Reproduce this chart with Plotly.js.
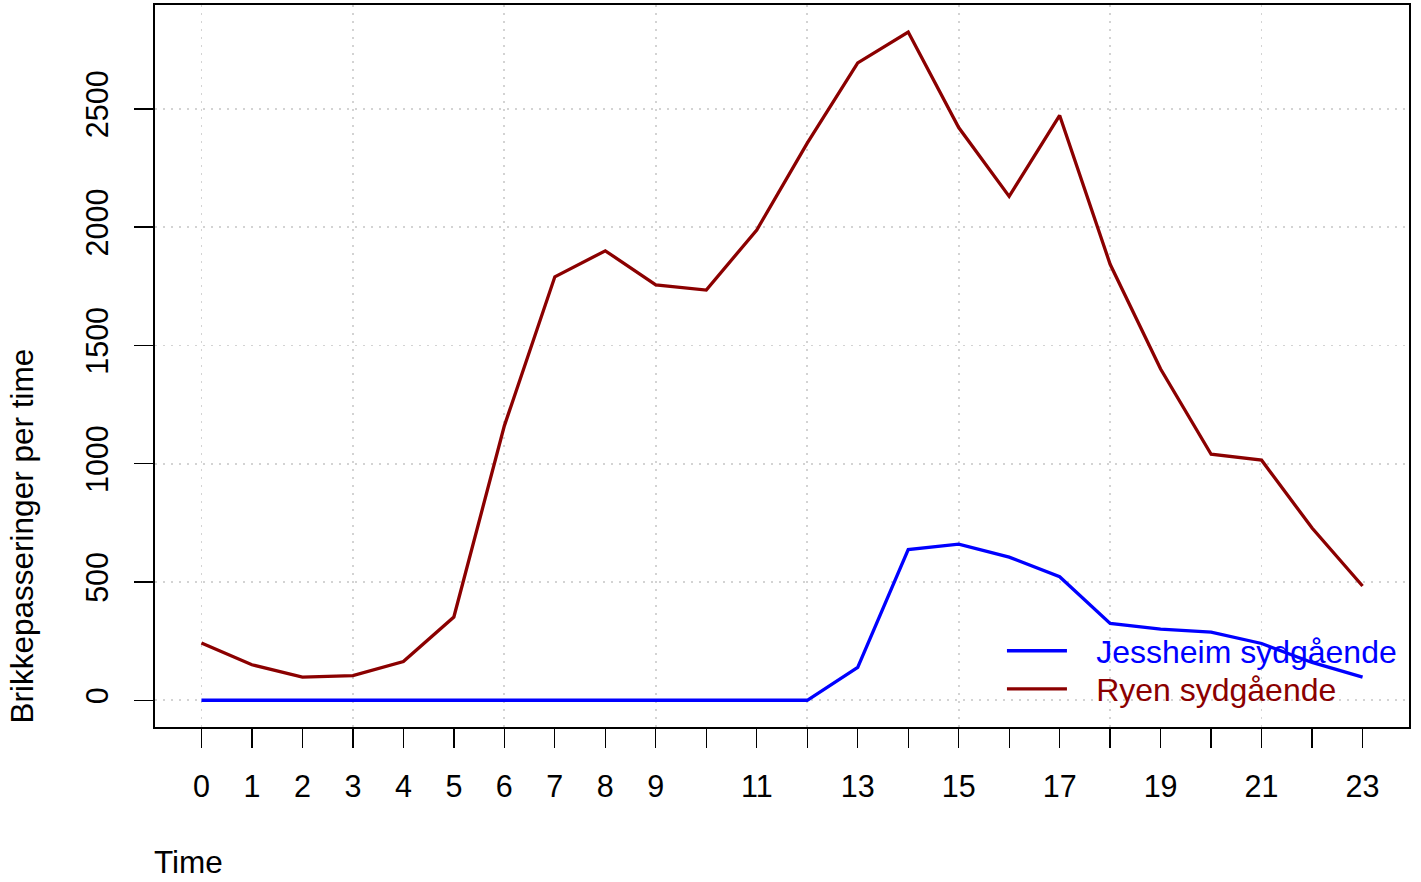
<!DOCTYPE html>
<html>
<head>
<meta charset="utf-8">
<script src="https://cdn.plot.ly/plotly-3.0.1.min.js"></script>
<style>
html,body{margin:0;padding:0;background:#fff;}
#chart{width:1421px;height:882px;}
</style>
</head>
<body>
<div id="chart"></div>
<script>
const hours = [0,1,2,3,4,5,6,7,8,9,10,11,12,13,14,15,16,17,18,19,20,21,22,23];
const hourLabels = ["0","1","2","3","4","5","6","7","8","9","","11","","13","","15","","17","","19","","21","","23"];
const jessheim = [0,0,0,0,0,0,0,0,0,0,0,0,0,139,637,660,605,522,325,301,288,240,160,98];
const ryen = [242,150,98,104,164,352,1160,1790,1900,1756,1734,1988,2355,2694,2825,2421,2130,2472,1843,1400,1040,1015,728,483];
const yTicks = [0,500,1000,1500,2000,2500];
const seriesNames = ["Jessheim sydgående","Ryen sydgående"];
const colors = ["#0000FF","#8B0000"];

const FONT = "Liberation Sans, Arial, Helvetica, sans-serif";
const PAD = "\u00A0\u00A0\u2009";

const traces = [
  {x: hours, y: jessheim, type:"scatter", mode:"lines", legend:"legend",
   name: PAD + '<span style="color:'+colors[0]+'">'+seriesNames[0]+'</span>',
   line:{color:colors[0], width:3.3}},
  {x: hours, y: ryen, type:"scatter", mode:"lines", legend:"legend2",
   name: PAD + '<span style="color:'+colors[1]+'">'+seriesNames[1]+'</span>',
   line:{color:colors[1], width:3.3}},
  // helper trace so the overlaid grid axis is drawn
  {x: [hours[0]], y: [null], xaxis:"x2", type:"scatter", mode:"lines",
   showlegend:false, hoverinfo:"skip"}
];

const legendBase = {xanchor:"left", yanchor:"middle", bgcolor:"rgba(0,0,0,0)",
  font:{family:FONT, size:32}, itemwidth:60, tracegroupgap:0};

const layout = {
  width:1421, height:882,
  margin:{l:155, r:12, t:5, b:155},
  paper_bgcolor:"#fff", plot_bgcolor:"#fff",
  font:{family:FONT, size:30, color:"#000"},
  showlegend:true,
  legend:Object.assign({x:0.6754, y:0.1053}, legendBase),
  legend2:Object.assign({x:0.6754, y:0.0526}, legendBase),
  xaxis:{
    range:[-0.92, 23.92], tickmode:"array", tickvals:hours, ticktext:hourLabels,
    ticks:"outside", ticklen:19, tickwidth:1.3, tickcolor:"#000",
    showgrid:false, zeroline:false,
    showline:true, mirror:true, linecolor:"#000", linewidth:1.6,
    tickfont:{family:FONT, size:30.5, color:"#000"}, ticklabelstandoff:13
  },
  xaxis2:{
    overlaying:"x", range:[-0.92, 23.92], tickmode:"linear", tick0:0, dtick:3,
    showgrid:true, gridcolor:"#D3D3D3", griddash:"2px,6px", gridwidth:1.8,
    showticklabels:false, ticks:"", zeroline:false, showline:false
  },
  yaxis:{
    range:[-113, 2939], tickmode:"array", tickvals:yTicks, ticktext:yTicks.map(String),
    ticks:"outside", ticklen:19, tickwidth:1.3, tickcolor:"#000", tickangle:-90,
    showgrid:true, gridcolor:"#D3D3D3", griddash:"2px,6px", gridwidth:1.8,
    zeroline:false, showline:true, mirror:true, linecolor:"#000", linewidth:1.6,
    tickfont:{family:FONT, size:30.5, color:"#000"}, ticklabelstandoff:14
  },
  annotations:[
    {text:"Time", xref:"paper", yref:"paper", x:0, y:-0.187, xanchor:"left", yanchor:"middle",
     xshift:-3, showarrow:false, font:{family:FONT, size:31.5, color:"#000"}},
    {text:"Brikkepasseringer per time", xref:"paper", yref:"paper", x:-0.106, y:0.264,
     xanchor:"center", yanchor:"middle", textangle:-90,
     showarrow:false, font:{family:FONT, size:31.5, color:"#000"}}
  ]
};

Plotly.newPlot("chart", traces, layout, {displayModeBar:false, staticPlot:true});
</script>
</body>
</html>
